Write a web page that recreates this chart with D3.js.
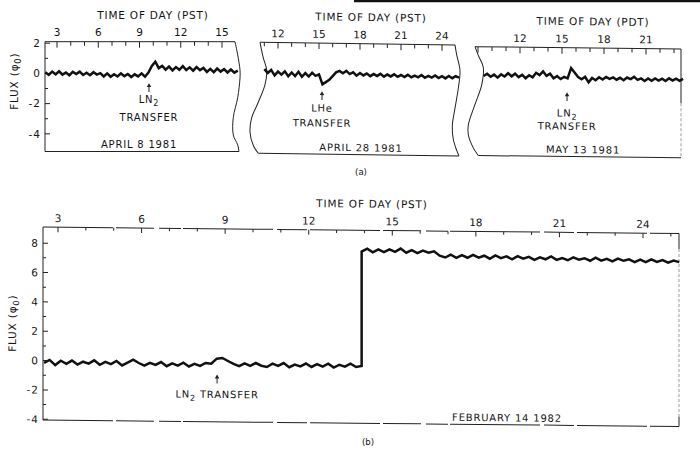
<!DOCTYPE html>
<html>
<head>
<meta charset="utf-8">
<script src="https://cdn.jsdelivr.net/npm/d3@7"></script>
<style>
	body { margin: 0; background: #fff; }
	svg { display: block; }
	text { font-family: "DejaVu Sans", sans-serif; fill: #141414; letter-spacing: 0.8px; }
</style>
</head>
<body>
<div id="chart"></div>
<script>
// ---- data (flux in units of phi0, time in hours) ----
const apr8Start = 2.15, apr8Step = 0.25;
const apr8Flux = [0.08, -0.1, 0.12, -0.06, 0.14, -0.08, 0.06, -0.12, 0.1, -0.04,
	0.12, -0.1, 0.05, -0.12, 0.08, -0.08, 0.02, -0.2, 0.0, -0.22,
	-0.05, -0.2, 0.0, -0.18, -0.04, -0.24, -0.06, -0.2, 0.0, -0.22,
	0.05, 0.5, 0.78, 0.35, 0.5, 0.25, 0.45, 0.2, 0.42, 0.24,
	0.48, 0.22, 0.4, 0.18, 0.42, 0.22, 0.36, 0.1, 0.3, 0.08,
	0.32, 0.12, 0.28, 0.06, 0.26, 0.05, 0.18];

const apr28Start = 11.0, apr28Step = 0.25;
const apr28Flux = [0.35, 0.1, 0.3, -0.05, 0.2, 0.0, 0.22, -0.1, 0.15, -0.08,
	0.2, -0.12, 0.12, -0.1, 0.15, -0.05, 0.05, -0.6, -0.45, -0.3,
	-0.05, 0.2, 0.3, 0.15, 0.3, 0.1, 0.22, 0.0, 0.18, 0.02,
	0.15, -0.02, 0.12, 0.0, 0.14, -0.04, 0.1, -0.02, 0.12, -0.04,
	0.08, -0.05, 0.1, -0.06, 0.06, -0.05, 0.1, -0.08, 0.05, -0.06,
	0.08, -0.08, 0.04, -0.1, 0.06, -0.08, 0.05, -0.04];

const may13Start = 9.4, may13Step = 0.25;
const may13Flux = [0.15, 0.3, 0.1, 0.25, 0.05, 0.27, 0.13, 0.35, 0.15, 0.33,
	0.1, 0.25, 0.03, 0.23, 0.1, 0.4, 0.25, 0.5, 0.2, 0.35,
	0.05, 0.2, 0.0, 0.15, 0.05, 0.74, 0.45, 0.15, 0.0, 0.17,
	-0.2, 0.1, -0.05, 0.15, 0.0, 0.17, 0.05, 0.15, 0.0, 0.13,
	-0.03, 0.15, 0.05, 0.2, 0.0, 0.1, -0.07, 0.1, -0.05, 0.11,
	-0.03, 0.1, -0.05, 0.13, -0.01, 0.11, -0.03, 0.1];

const feb14Start = 2.5, feb14Step = 0.2, feb14JumpHour = 13.9;
const feb14Before = [-0.15, 0.05, -0.3, 0.0, -0.2, 0.02, -0.25, -0.05, -0.18, 0.05,
	-0.25, -0.05, -0.2, 0.02, -0.28, -0.08, 0.12, -0.1, -0.28, -0.08,
	-0.22, -0.02, -0.3, -0.1, -0.25, -0.05, -0.3, -0.12, -0.25, -0.05,
	-0.1, 0.25, 0.3, 0.1, -0.1, -0.25, -0.05, -0.22, -0.02, -0.2,
	-0.28, -0.05, -0.2, 0.0, -0.28, -0.1, -0.22, -0.02, -0.25, -0.05,
	-0.22, -0.02, -0.28, -0.08, -0.2, 0.0, -0.22, -0.15];
const feb14After = [7.65, 7.85, 7.6, 7.8, 7.62, 7.82, 7.65, 7.88, 7.6, 7.78,
	7.58, 7.75, 7.62, 7.72, 7.42, 7.3, 7.5, 7.28, 7.48, 7.3,
	7.5, 7.32, 7.45, 7.25, 7.48, 7.3, 7.42, 7.22, 7.45, 7.28,
	7.4, 7.2, 7.38, 7.25, 7.45, 7.22, 7.35, 7.2, 7.4, 7.25,
	7.35, 7.18, 7.4, 7.2, 7.32, 7.15, 7.35, 7.2, 7.3, 7.12,
	7.3, 7.12, 7.32, 7.15, 7.28, 7.1, 7.25, 7.15];

const apr8HourLabels = [3, 6, 9, 12, 15];
const apr28HourLabels = [12, 15, 18, 21, 24];
const may13HourLabels = [12, 15, 18, 21];
const feb14HourLabels = [3, 6, 9, 12, 15, 18, 21, 24];
const fluxLabelsA = [2, 0, -2, -4];
const fluxLabelsB = [8, 6, 4, 2, 0, -2, -4];

// ---- layout ----
const W = 700, H = 451;
const ink = '#222';
const wave1 = [[0, 0], [2.7, 0.12], [5, 0.26], [5, 0.33], [2.7, 0.51], [-1.7, 0.69], [-1.7, 0.85], [2.7, 0.94], [4, 1]];
const wave2 = [[0, 0], [3.3, 0.14], [6.7, 0.25], [5, 0.38], [-1.7, 0.54], [-8.3, 0.68], [-10, 0.81], [-6.7, 0.93], [-1.7, 1]];
const wave3 = [[0, 0], [1.7, 0.09], [5, 0.23], [3.3, 0.39], [0, 0.57], [-2.7, 0.73], [-1.7, 0.85], [1.7, 0.95], [4, 1]];
const wave4 = [[0, 0], [3.3, 0.08], [8.3, 0.19], [6.7, 0.35], [0, 0.53], [-6.7, 0.72], [-6.7, 0.81], [-1.7, 0.93], [3.3, 1]];
const straight = [[0, 0], [0, 1]];

const panels = [
	{
		series: [{ start: apr8Start, step: apr8Step, values: apr8Flux }],
		hourRef: [3, 15], pxRef: [57, 222], labels: apr8HourLabels,
		top: 41.7, bottom: 151.5, yDomain: [-5.17, 2.1], shear: 0,
		left: { x: 45, shape: straight }, right: { x: 235, shape: wave1 },
		yAxis: { labels: fluxLabelsA, min: -4, max: 2 },
		title: 'TIME OF DAY (PST)', titleX: 153, date: 'APRIL 8 1981', dateX: 139,
		note: { hour: 9.69, tip: -0.7, lines: [[['LN', 0], ['2', 1]], [['TRANSFER', 0]]], dy: [15, 33] }
	},
	{
		series: [{ start: apr28Start, step: apr28Step, values: apr28Flux }],
		hourRef: [12, 24], pxRef: [278, 442], labels: apr28HourLabels,
		top: 42.3, bottom: 153.3, yDomain: [-5.17, 2.1], shear: 0.0135,
		left: { x: 260, shape: wave2 }, right: { x: 455, shape: wave3 },
		title: 'TIME OF DAY (PST)', titleX: 371, date: 'APRIL 28 1981', dateX: 361,
		note: { hour: 15.22, tip: -1.1, lines: [[['LHe', 0]], [['TRANSFER', 0]]], dy: [16, 31] }
	},
	{
		series: [{ start: may13Start, step: may13Step, values: may13Flux }],
		hourRef: [12, 21], pxRef: [520, 646], labels: may13HourLabels,
		top: 46.7, bottom: 155.5, yDomain: [-5.17, 2.1], shear: 0.011,
		left: { x: 475, shape: wave4 }, right: { x: 681, shape: straight, fadeFrom: 0.5 },
		title: 'TIME OF DAY (PDT)', titleX: 593, date: 'MAY 13 1981', dateX: 583,
		note: { hour: 15.36, tip: -0.93, lines: [[['LN', 0], ['2', 1]], [['TRANSFER', 0]]], dy: [20, 33] }
	},
	{
		series: [
			{ start: feb14Start, step: feb14Step, values: feb14Before },
			{ start: feb14JumpHour, step: feb14Step, values: feb14After }
		],
		hourRef: [3, 24], pxRef: [58, 643], labels: feb14HourLabels,
		top: 227, bottom: 420, yDomain: [-4.05, 9.1], shear: 0.0102,
		left: { x: 43, shape: straight }, right: { x: 679, shape: straight, fadeFrom: 0.08, fadeTo: 0.95 },
		yAxis: { labels: fluxLabelsB, min: -4, max: 8 },
		dashedFrame: true, majorTick: 5, minorTick: 3,
		title: 'TIME OF DAY (PST)', titleX: 372, date: 'FEBRUARY 14 1982', dateX: 507,
		note: { hour: 8.71, tip: -0.89, lines: [[['LN', 0], ['2', 1], ['  TRANSFER', 0]]], dy: [19] }
	}
];

const svg = d3.select('#chart').append('svg')
	.attr('width', W)
	.attr('height', H);

svg.append('rect').attr('width', W).attr('height', H).attr('fill', '#fff');

// dark strip left at the top edge of the scan
svg.append('line')
	.attr('x1', 354).attr('x2', W)
	.attr('y1', 1).attr('y2', 1)
	.attr('stroke', '#111')
	.attr('stroke-width', 2.4);

function richText(g, x, y, parts, size, anchor) {
	let t = g.append('text')
		.attr('x', x)
		.attr('y', y)
		.attr('text-anchor', anchor || 'middle')
		.style('font-size', size + 'px');
	parts.forEach(([s, sub]) => {
		let span = t.append('tspan').text(s);
		if (sub) span.attr('baseline-shift', '-35%').style('font-size', (size * 0.8) + 'px');
	});
	return t;
}

function edge(g, e, top, bottom) {
	let pts = e.shape.map(([dx, t]) => [e.x + dx, top + t * (bottom - top)]);
	if (e.fadeFrom === undefined) {
		g.append('path')
			.attr('d', d3.line().curve(d3.curveCatmullRom)(pts))
			.attr('fill', 'none')
			.attr('stroke', ink)
			.attr('stroke-width', 1);
		return;
	}
	let yA = top + e.fadeFrom * (bottom - top);
	let yB = top + (e.fadeTo || 1) * (bottom - top);
	g.append('line').attr('x1', e.x).attr('x2', e.x).attr('y1', top).attr('y2', yA)
		.attr('stroke', ink).attr('stroke-width', 1);
	g.append('line').attr('x1', e.x).attr('x2', e.x).attr('y1', yA).attr('y2', yB)
		.attr('stroke', '#999').attr('stroke-width', 1).attr('stroke-dasharray', '3 2');
	if (e.fadeTo) {
		g.append('line').attr('x1', e.x).attr('x2', e.x).attr('y1', yB).attr('y2', bottom)
			.attr('stroke', ink).attr('stroke-width', 1);
	}
}

function drawPanel(p) {
	let g = svg.append('g')
		.attr('transform', `matrix(1,${p.shear},0,1,0,${-p.shear * p.left.x})`);

	let x = d3.scaleLinear().domain(p.hourRef).range(p.pxRef);
	let y = d3.scaleLinear().domain(p.yDomain).range([p.bottom, p.top]);

	let l = p.left, r = p.right;
	let lTop = l.x + l.shape[0][0], lBot = l.x + l.shape[l.shape.length - 1][0];
	let rTop = r.x + r.shape[0][0], rBot = r.x + r.shape[r.shape.length - 1][0];

	// frame
	let frame = [[lTop, p.top, rTop, p.top], [lBot, p.bottom, rBot, p.bottom]];
	frame.forEach(([x1, y1, x2, y2]) => {
		g.append('line')
			.attr('x1', x1).attr('y1', y1).attr('x2', x2).attr('y2', y2)
			.attr('stroke', ink)
			.attr('stroke-width', 1)
			.attr('stroke-dasharray', p.dashedFrame ? '70 3 38 5 22 2 90 4 30 3' : null);
	});
	edge(g, l, p.top, p.bottom);
	edge(g, r, p.top, p.bottom);

	// hour ticks along the top, pointing into the frame
	let h0 = Math.ceil(x.invert(lTop + 3)), h1 = Math.floor(x.invert(rTop - 3));
	let major = p.majorTick || 6, minor = p.minorTick || 4;
	d3.range(h0, h1 + 1).forEach(h => {
		g.append('line')
			.attr('x1', x(h)).attr('x2', x(h))
			.attr('y1', p.top).attr('y2', p.top + (h % 3 === 0 ? major : minor))
			.attr('stroke', ink)
			.attr('stroke-width', 1);
	});
	p.labels.forEach(h => {
		g.append('text')
			.attr('x', x(h))
			.attr('y', p.top - 9)
			.attr('dy', '0.36em')
			.attr('text-anchor', 'middle')
			.style('font-size', '10.5px')
			.style('letter-spacing', '0px')
			.text(h);
	});

	g.append('text')
		.attr('x', p.titleX)
		.attr('y', p.top - 26.5)
		.attr('dy', '0.36em')
		.attr('text-anchor', 'middle')
		.style('font-size', '10.5px')
		.text(p.title);

	// flux axis
	if (p.yAxis) {
		d3.range(p.yAxis.min, p.yAxis.max + 1).forEach(v => {
			g.append('line')
				.attr('x1', l.x).attr('x2', l.x + (v % 2 === 0 ? 5 : 3))
				.attr('y1', y(v)).attr('y2', y(v))
				.attr('stroke', ink)
				.attr('stroke-width', 1);
		});
		p.yAxis.labels.forEach(v => {
			g.append('text')
				.attr('x', l.x - 4)
				.attr('y', y(v))
				.attr('dy', '0.36em')
				.attr('text-anchor', 'end')
				.style('font-size', '10.5px')
				.style('letter-spacing', '1px')
				.text(v);
		});
		let mid = (p.top + p.bottom) / 2 - (p.bottom - p.top) * (p.top < 100 ? 0.14 : 0.0);
		richText(g, 0, 0, [['FLUX (\u03c6', 0], ['0', 1], [')', 0]], 10.5)
			.attr('transform', `translate(${l.x - 27},${mid}) rotate(-90)`);
	}

	// trace
	let pts = [];
	p.series.forEach(s => {
		s.values.forEach((v, i) => pts.push({ h: s.start + i * s.step, v: v }));
	});
	g.append('path')
		.datum(pts)
		.attr('d', d3.line().x(d => x(d.h)).y(d => y(d.v)))
		.attr('fill', 'none')
		.attr('stroke', '#111')
		.attr('stroke-width', 2.5)
		.attr('stroke-linejoin', 'miter');

	// transfer arrow + caption
	let n = p.note;
	let ax = x(n.hour), tip = y(n.tip);
	g.append('line')
		.attr('x1', ax).attr('x2', ax)
		.attr('y1', tip + 2).attr('y2', tip + 8)
		.attr('stroke', ink)
		.attr('stroke-width', 1);
	g.append('path')
		.attr('d', d3.symbol(d3.symbolTriangle, 9)())
		.attr('transform', `translate(${ax},${tip + 1.8})`)
		.attr('fill', ink);
	n.lines.forEach((line, i) => {
		richText(g, ax, tip + n.dy[i], line, 10).attr('dy', '0.36em');
	});

	g.append('text')
		.attr('x', p.dateX)
		.attr('y', p.bottom - 7)
		.attr('dy', '0.36em')
		.attr('text-anchor', 'middle')
		.style('font-size', '10px')
		.text(p.date);
}

panels.forEach(drawPanel);

svg.append('text')
	.attr('x', 361).attr('y', 172).attr('dy', '0.36em')
	.attr('text-anchor', 'middle')
	.style('font-size', '8.5px')
	.style('letter-spacing', '0px')
	.text('(a)');

svg.append('text')
	.attr('x', 368).attr('y', 442).attr('dy', '0.36em')
	.attr('text-anchor', 'middle')
	.style('font-size', '8.5px')
	.style('letter-spacing', '0px')
	.text('(b)');
</script>
</body>
</html>
